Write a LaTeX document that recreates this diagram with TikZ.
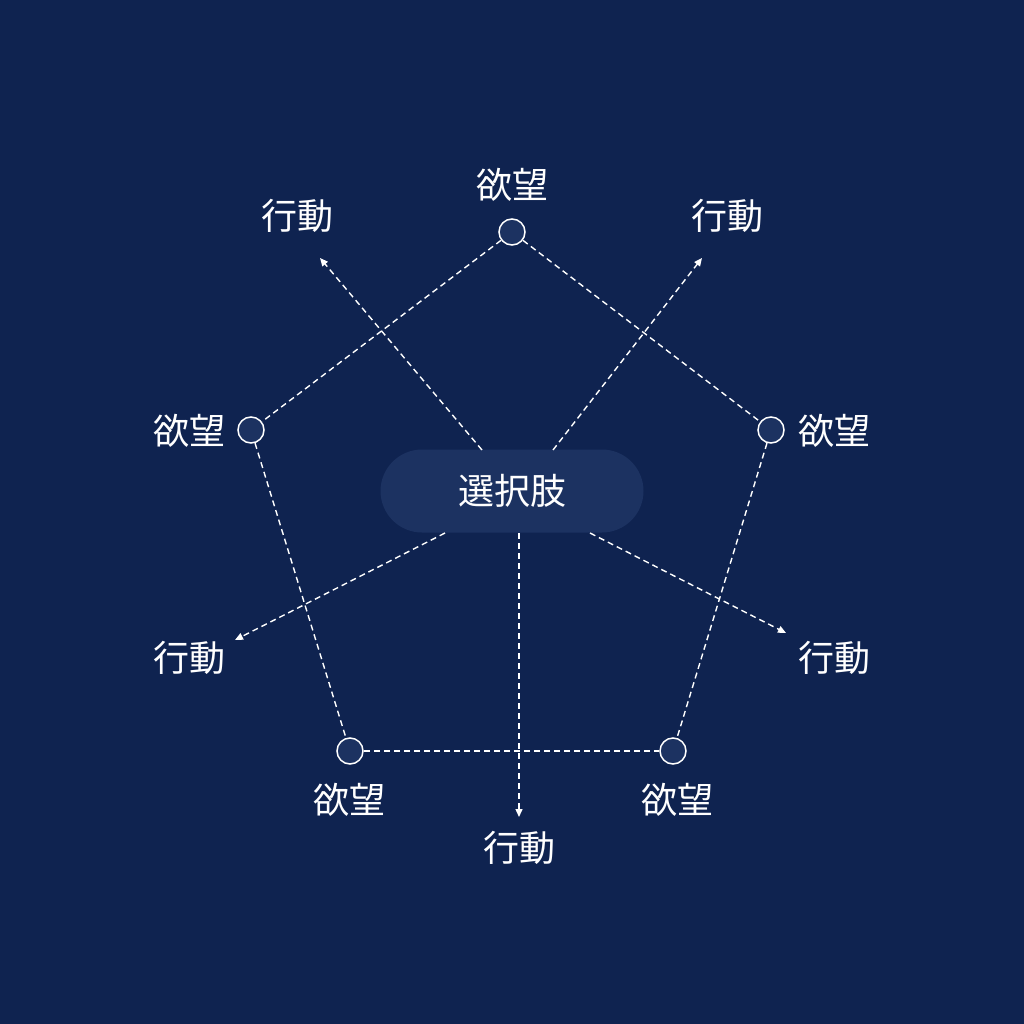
\documentclass[tikz,border=0pt]{standalone}
\usepackage{fontspec}
\newfontfamily\cjk{Noto Sans CJK JP}
\usetikzlibrary{shapes.misc,arrows.meta}
\definecolor{bg}{HTML}{0F2350}
\definecolor{pillc}{HTML}{1C3261}
\tikzset{
  lbl/.style={text=white,font=\cjk\fontsize{36}{40}\selectfont,inner sep=0pt},
  dot/.style={circle,draw=white,fill=pillc,line width=1.5pt,minimum size=26pt,inner sep=0pt},
  pent/.style={draw=white,line width=1.4pt,dash pattern=on 6pt off 4pt},
  arr/.style={pent,-{Triangle[length=8pt,width=7pt]}},
}
\begin{document}
\begin{tikzpicture}[x=1pt,y=-1pt]
\fill[bg] (0,0) rectangle (1024,1024);
\useasboundingbox (0,0) rectangle (1024,1024);
\node[rounded rectangle,fill=pillc,minimum width=263pt,minimum height=83pt,inner sep=0pt] (pill) at (512,491) {};
\node[lbl] (pilltxt) at (512,491) {選択肢};
\node[dot] (d1) at (512,232) {};
\node[dot] (d2) at (251,430) {};
\node[dot] (d3) at (771,430) {};
\node[dot] (d4) at (350,751) {};
\node[dot] (d5) at (673,751) {};
\node[lbl] (w1) at (512,185) {欲望};
\node[lbl] (w2) at (189,431) {欲望};
\node[lbl] (w3) at (834,431) {欲望};
\node[lbl] (w4) at (349,800) {欲望};
\node[lbl] (w5) at (677,800) {欲望};
\node[lbl] (a1) at (297,216) {行動};
\node[lbl] (a2) at (727,216) {行動};
\node[lbl] (a3) at (189,658) {行動};
\node[lbl] (a4) at (834,658) {行動};
\node[lbl] (a5) at (519,848) {行動};
\coordinate (t1) at (320,258);
\coordinate (t2) at (702,258);
\coordinate (t3) at (235,640);
\coordinate (t4) at (786,633);
\coordinate (t5) at (519,817);
\coordinate (s1) at (482,450);
\coordinate (s2) at (553,450);
\coordinate (s3) at (445,533);
\coordinate (s4) at (590,533);
\coordinate (s5) at (519,533);
\draw[pent] (d1) -- (d2);
\draw[pent] (d1) -- (d3);
\draw[pent] (d2) -- (d4);
\draw[pent] (d3) -- (d5);
\draw[pent] (d4) -- (d5);
\draw[arr] (s1) -- (t1);
\draw[arr] (s2) -- (t2);
\draw[arr] (s3) -- (t3);
\draw[arr] (s4) -- (t4);
\draw[arr] (s5) -- (t5);
\end{tikzpicture}
\end{document}
